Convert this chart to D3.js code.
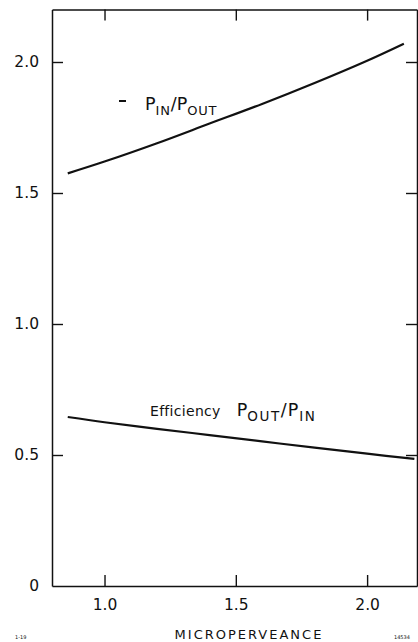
<!DOCTYPE html>
<html>
<head>
<meta charset="utf-8">
<script src="https://cdn.jsdelivr.net/npm/d3@7"></script>
<style>
  body { margin: 0; background: #fff; }
  svg { display: block; }
  text { font-family: "DejaVu Sans", sans-serif; fill: #111; }
</style>
</head>
<body>
<svg id="chart" width="418" height="642"></svg>
<script>
// Microperveance (x) for each curve
const ratioX = [0.86, 1.0, 1.2, 1.4, 1.6, 1.8, 2.0, 2.14];
// P_IN / P_OUT
const ratioY = [1.575, 1.62, 1.69, 1.765, 1.84, 1.92, 2.005, 2.07];
const effX = [0.86, 1.0, 1.2, 1.4, 1.6, 1.8, 2.0, 2.18];
// Efficiency P_OUT / P_IN
const effY = [0.645, 0.625, 0.60, 0.576, 0.552, 0.528, 0.505, 0.485];

const xTicks = [1.0, 1.5, 2.0];
const xTickLabels = ["1.0", "1.5", "2.0"];
const yTicks = [0, 0.5, 1.0, 1.5, 2.0];
const yTickLabels = ["0", "0.5", "1.0", "1.5", "2.0"];

const svg = d3.select("#chart");
const x = d3.scaleLinear().domain([0.8, 2.19]).range([52, 417]);
const y = d3.scaleLinear().domain([0, 2.2]).range([586, 9.6]);

function styleAxis(g) {
  g.selectAll("path.domain").attr("stroke", "#111").attr("stroke-width", 1.5);
  g.selectAll(".tick line").attr("stroke", "#111").attr("stroke-width", 1.4);
  g.selectAll(".tick text").attr("font-family", "DejaVu Sans, sans-serif").attr("fill", "#111");
}

// left axis with labels
svg.append("g")
  .attr("transform", `translate(${x(0.8)},0)`)
  .call(d3.axisLeft(y).tickValues(yTicks).tickFormat((d, i) => yTickLabels[i])
    .tickSizeInner(-11).tickSizeOuter(0).tickPadding(13))
  .call(styleAxis)
  .call(g => g.selectAll(".tick text").attr("font-size", 15.5))
  .call(g => g.selectAll(".tick").filter(d => d === 0).select("line").remove());

// bottom axis with labels
svg.append("g")
  .attr("transform", `translate(0,${y(0)})`)
  .call(d3.axisBottom(x).tickValues(xTicks).tickFormat((d, i) => xTickLabels[i])
    .tickSizeInner(-11).tickSizeOuter(0).tickPadding(13))
  .call(styleAxis)
  .call(g => g.selectAll(".tick text").attr("font-size", 15.5));

// top and right frame with inward ticks
svg.append("g")
  .attr("transform", `translate(0,${y(2.2)})`)
  .call(d3.axisTop(x).tickValues(xTicks).tickFormat("").tickSizeInner(-11).tickSizeOuter(0))
  .call(styleAxis);
svg.append("g")
  .attr("transform", `translate(${x(2.19)},0)`)
  .call(d3.axisRight(y).tickValues(yTicks.slice(1)).tickFormat("").tickSizeInner(-11).tickSizeOuter(0))
  .call(styleAxis);

// curves
const line = d3.line().x(d => x(d[0])).y(d => y(d[1])).curve(d3.curveCatmullRom);
svg.append("path")
  .datum(d3.zip(ratioX, ratioY))
  .attr("d", line).attr("fill", "none").attr("stroke", "#111").attr("stroke-width", 2.2);
svg.append("path")
  .datum(d3.zip(effX, effY))
  .attr("d", line).attr("fill", "none").attr("stroke", "#111").attr("stroke-width", 2.2);

// curve labels
const r = svg.append("text").attr("x", 145).attr("y", 110).attr("font-size", 17.5);
r.append("tspan").text("P");
r.append("tspan").attr("font-size", 13).attr("dy", 5).attr("letter-spacing", 0.8).text("IN");
r.append("tspan").attr("dy", -5).text("/P");
r.append("tspan").attr("font-size", 13).attr("dy", 5).attr("letter-spacing", 0.8).text("OUT");

svg.append("line")
  .attr("x1", 119).attr("x2", 126).attr("y1", 101).attr("y2", 101)
  .attr("stroke", "#111").attr("stroke-width", 2);

const e = svg.append("text").attr("x", 150).attr("y", 416).attr("font-size", 14);
e.append("tspan").attr("letter-spacing", 0.3).text("Efficiency");
e.append("tspan").attr("dx", 16).attr("font-size", 17.5).text("P");
e.append("tspan").attr("font-size", 13.5).attr("dy", 5).attr("letter-spacing", 1.6).text("OUT");
e.append("tspan").attr("font-size", 17.5).attr("dy", -5).attr("letter-spacing", 1).text("/P");
e.append("tspan").attr("font-size", 13.5).attr("dy", 5).attr("letter-spacing", 1.6).text("IN");

// axis title
svg.append("text")
  .attr("x", 249).attr("y", 639).attr("text-anchor", "middle")
  .attr("font-size", 13).attr("letter-spacing", 2)
  .text("MICROPERVEANCE");

// figure reference numbers
svg.append("text").attr("x", 15).attr("y", 639).attr("font-size", 5).attr("fill", "#444").text("1-19");
svg.append("text").attr("x", 394).attr("y", 639).attr("font-size", 5).attr("fill", "#444").text("14534");
</script>
</body>
</html>
